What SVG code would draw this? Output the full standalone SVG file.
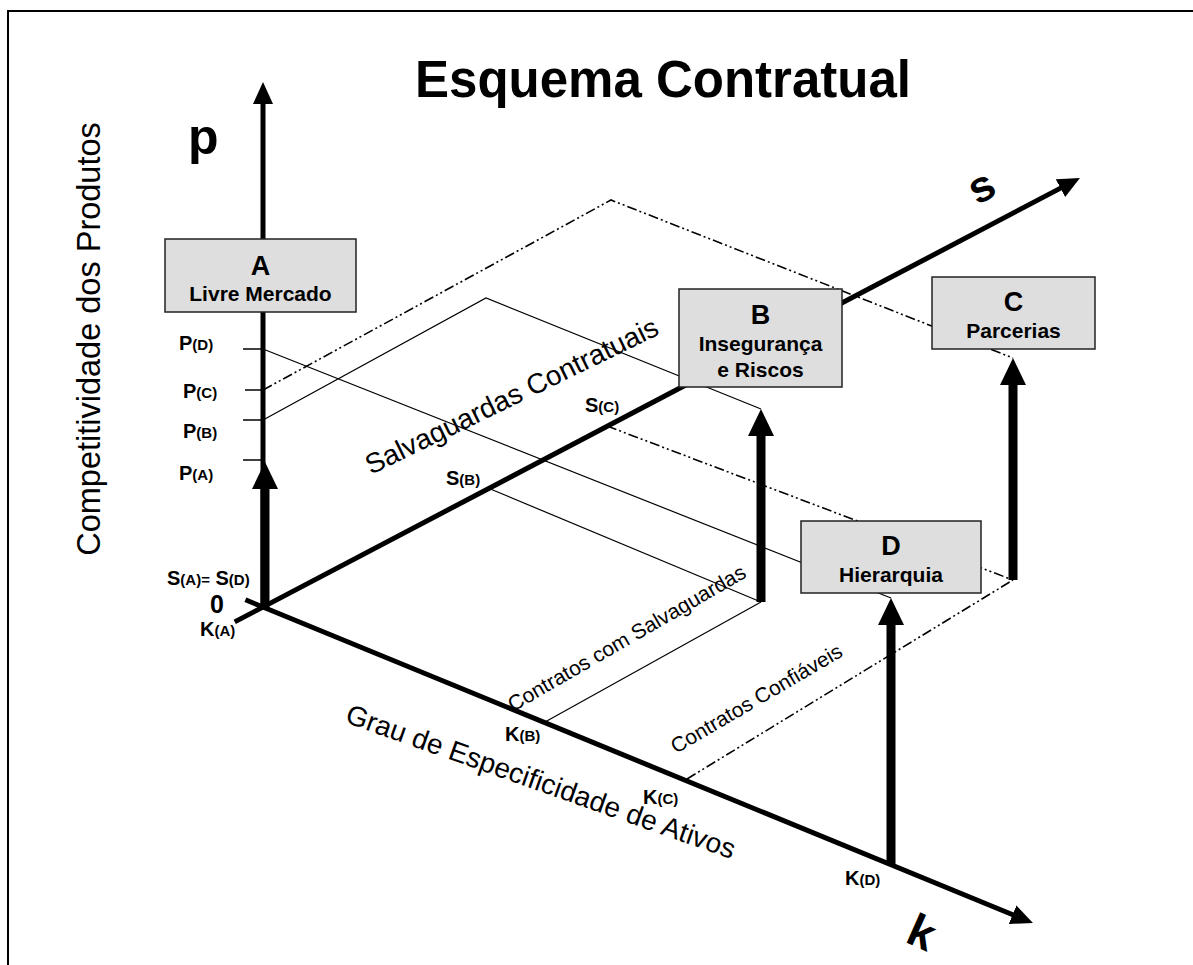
<svg xmlns="http://www.w3.org/2000/svg" width="1193" height="965" viewBox="0 0 1193 965">
  <style>
    text { font-family: "Liberation Sans", Arial, sans-serif; fill: #000; }
    .b { font-weight: bold; }
    .box { fill: #dedede; stroke: #222; stroke-width: 1.5; }
    .axis { stroke: #000; stroke-width: 5; fill: none; }
    .thick { stroke: #000; stroke-width: 9; fill: none; }
    .thin { stroke: #000; stroke-width: 1.2; fill: none; }
    .dd { stroke: #000; stroke-width: 1.6; fill: none; stroke-dasharray: 10 3 2 3 2 3; }
    .tick { stroke: #000; stroke-width: 1.5; }
    .lab { font-size: 20px; font-weight: bold; }
    .sub { font-size: 15px; }
    .ttl { font-size: 21px; font-weight: bold; text-anchor: middle; }
    .let { font-size: 27px; font-weight: bold; text-anchor: middle; }
  </style>
  <defs>
    <marker id="headAxis" viewBox="0 0 22 20" markerUnits="userSpaceOnUse" markerWidth="22" markerHeight="20" refX="12" refY="10" orient="auto">
      <path d="M0,0 L22,10 L0,20 z" fill="#000"/>
    </marker>
    <marker id="headThick" viewBox="0 0 27 26" markerUnits="userSpaceOnUse" markerWidth="27" markerHeight="26" refX="9" refY="13" orient="auto">
      <path d="M0,0 L27,13 L0,26 z" fill="#000"/>
    </marker>
  </defs>

  <rect width="1193" height="965" fill="#fff"/>
  <!-- page frame -->
  <path d="M8,965 V11 H1193" fill="none" stroke="#000" stroke-width="2"/>

  <text x="663" y="97" class="b" font-size="51" text-anchor="middle">Esquema Contratual</text>

  <g id="connectors">
    <!-- guide lines (thin solid) -->
    <path class="thin" d="M263,420 L486,298 L761,409"/>
    <path class="thin" d="M263,349 L891,598"/>
    <path class="thin" d="M488,488 L761,602"/>
    <path class="thin" d="M545,722 L761,602"/>
    <!-- guide lines (dash-dot-dot) -->
    <path class="dd" d="M263,390 L611,200 L1013,358"/>
    <path class="dd" d="M607,426 L1013,580"/>
    <path class="dd" d="M687,779 L1013,580"/>

    <!-- axes -->
    <line class="axis" x1="263" y1="609" x2="263" y2="92" marker-end="url(#headAxis)"/>
    <line class="axis" x1="234.7" y1="621.9" x2="1071.1" y2="182.6" marker-end="url(#headAxis)"/>
    <line class="axis" x1="245.4" y1="599.8" x2="1023.7" y2="919.2" marker-end="url(#headAxis)"/>

    <!-- ticks on p axis -->
    <line class="tick" x1="243" y1="349" x2="263" y2="349"/>
    <line class="tick" x1="245" y1="390" x2="263" y2="390"/>
    <line class="tick" x1="243" y1="420" x2="263" y2="420"/>
    <line class="tick" x1="243" y1="460" x2="263" y2="460"/>

    <!-- vertical arrows -->
    <line class="thick" x1="265" y1="607" x2="265" y2="480" marker-end="url(#headThick)"/>
    <line class="thick" x1="761" y1="602" x2="761" y2="427" marker-end="url(#headThick)"/>
    <line class="thick" x1="1013" y1="580" x2="1013" y2="376" marker-end="url(#headThick)"/>
    <line class="thick" x1="891" y1="864" x2="891" y2="616" marker-end="url(#headThick)"/>
  </g>

  <!-- axis names -->
  <text x="188" y="154" class="b" font-size="50">p</text>
  <text transform="translate(983,190) rotate(-28)" x="0" y="11" class="b" font-size="44" text-anchor="middle">s</text>
  <text transform="translate(922,932) rotate(24)" x="0" y="16" class="b" font-size="46" text-anchor="middle">k</text>

  <text transform="translate(100,339) rotate(-90)" font-size="32.5" text-anchor="middle">Competitividade dos Produtos</text>
  <text transform="translate(371,475) rotate(-26)" font-size="28">Salvaguardas Contratuais</text>
  <text transform="translate(344,722) rotate(19.5)" font-size="28">Grau de Especificidade de Ativos</text>
  <text transform="translate(513,712) rotate(-30)" font-size="21">Contratos com Salvaguardas</text>
  <text transform="translate(676,754) rotate(-30.4)" font-size="21">Contratos Confiáveis</text>

  <!-- point labels -->
  <text x="179" y="350" class="lab">P<tspan class="sub">(D)</tspan></text>
  <text x="183" y="398" class="lab">P<tspan class="sub">(C)</tspan></text>
  <text x="183" y="438" class="lab">P<tspan class="sub">(B)</tspan></text>
  <text x="179" y="480" class="lab">P<tspan class="sub">(A)</tspan></text>
  <text x="167" y="585" class="lab">S<tspan class="sub">(A)=</tspan> S<tspan class="sub">(D)</tspan></text>
  <text x="210" y="613" class="b" font-size="25">0</text>
  <text x="200" y="636" class="lab">K<tspan class="sub">(A)</tspan></text>
  <text x="446" y="485" class="lab">S<tspan class="sub">(B)</tspan></text>
  <text x="585" y="412" class="lab">S<tspan class="sub">(C)</tspan></text>
  <text x="505" y="741" class="lab">K<tspan class="sub">(B)</tspan></text>
  <text x="643" y="804" class="lab">K<tspan class="sub">(C)</tspan></text>
  <text x="845" y="885" class="lab">K<tspan class="sub">(D)</tspan></text>

  <g id="nodeA">
    <rect class="box" x="165" y="239" width="191" height="73"/>
    <text x="260.5" y="275" class="let">A</text>
    <text x="260.5" y="301" class="ttl">Livre Mercado</text>
  </g>
  <g id="nodeB">
    <rect class="box" x="679" y="289" width="163" height="98"/>
    <text x="760.5" y="324" class="let">B</text>
    <text x="760.5" y="351" class="ttl">Insegurança</text>
    <text x="760.5" y="377" class="ttl">e Riscos</text>
  </g>
  <g id="nodeC">
    <rect class="box" x="932" y="277" width="163" height="72"/>
    <text x="1013.5" y="311" class="let">C</text>
    <text x="1013.5" y="338" class="ttl">Parcerias</text>
  </g>
  <g id="nodeD">
    <rect class="box" x="801" y="521" width="180" height="72"/>
    <text x="891" y="555" class="let">D</text>
    <text x="891" y="582" class="ttl">Hierarquia</text>
  </g>
</svg>
